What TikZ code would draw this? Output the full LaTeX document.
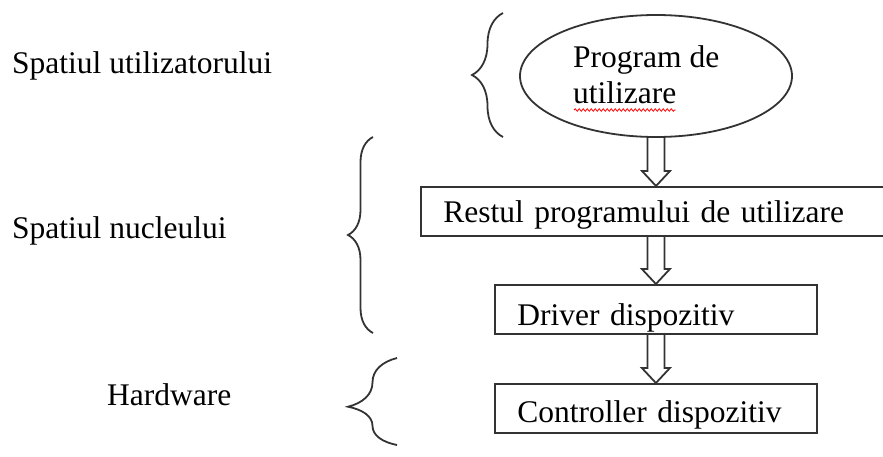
\documentclass[tikz,border=0pt]{standalone}
\usepackage{fontspec}
\setmainfont{Liberation Serif}
\usetikzlibrary{shapes.geometric,decorations.pathreplacing,decorations.pathmorphing,calc}
\begin{document}
\begin{tikzpicture}[
    x=1pt, y=-1pt,
    every node/.style={font=\fontsize{31.5}{36}\selectfont, inner sep=0pt},
    ln/.style={line width=1.8pt, draw=black!80},
    box/.style={ln, rectangle, anchor=north west, minimum height=49pt, inner xsep=22.5pt, align=left, text depth=0pt},
    br/.style={ln, decorate, decoration={brace, amplitude=#1}},
    hollow/.style={ln, to path={let \p1=(\tikztostart), \p2=(\tikztotarget) in
        (\x1-8.5pt,\y1) -- (\x1-8.5pt,\y2+15pt) -- (\x1-14pt,\y2+15pt) -- (\x1,\y2)
        -- (\x1+14pt,\y2+15pt) -- (\x1+8.5pt,\y2+15pt) -- (\x1+8.5pt,\y1)}}
]
\useasboundingbox (0,0) rectangle (883,456);
\clip (0,0) rectangle (883,456);

% left labels
\node[anchor=base west] (us) at (12,73) {Spatiul utilizatorului};
\node[anchor=base west] (ks) at (12,238) {Spatiul nucleului};
\node[anchor=base west] (hw) at (107,405) {Hardware};

% braces
\draw[br=31pt] (503,137) -- (503,13);
\draw[br=25pt] (373,333) -- (373,137);
\draw[br=49pt, decoration={aspect=0.44}] (397,445) -- (397,358);

% user program
\node[ln, ellipse, minimum width=272pt, minimum height=122pt] (prog) at (656,76) {};
\node[anchor=base west] (p1) at (573,67) {Program de};
\node[anchor=base west] (p2) at (573,103) {utilizare};
\draw[red, line width=0.8pt, decorate, decoration={snake, amplitude=1.2pt, segment length=4pt}]
    ($(p2.base west)+(1,7)$) -- ($(p2.base east)+(-1,7)$);

% kernel and hardware boxes
\node[box, minimum width=490pt, text width=445pt, text height=23pt] (rest) at (420,186) {Restul programului de utilizare};
\node[box, minimum width=322pt, text width=277pt, text height=33pt] (drv) at (494,284) {Driver dispozitiv};
\node[box, minimum width=322pt, text width=277pt, text height=29pt] (ctl) at (494,383) {Controller dispozitiv};

% arrows
\draw[hollow] (prog.south) to (prog.south |- rest.north);
\draw[hollow] (drv.north |- rest.south) to (drv.north);
\draw[hollow] (drv.south) to (ctl.north);
\end{tikzpicture}
\end{document}
